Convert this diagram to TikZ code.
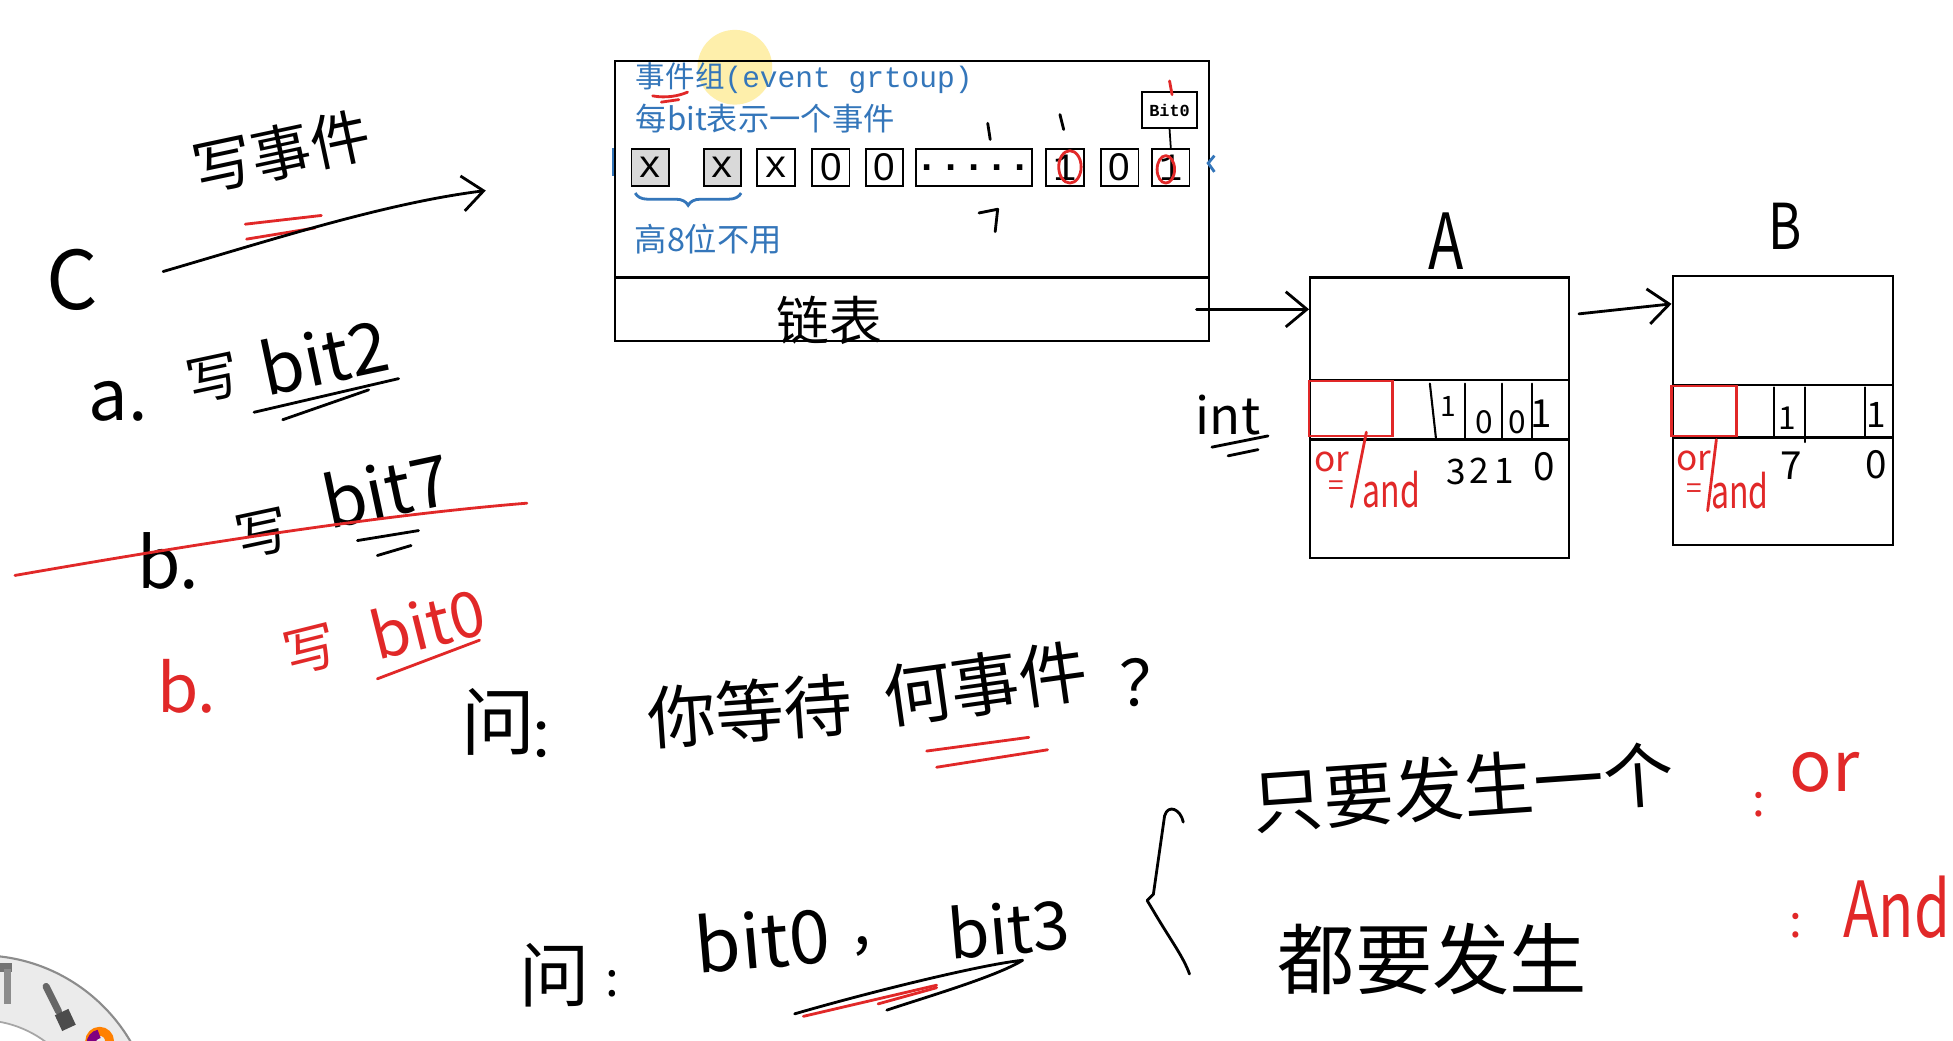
\documentclass[tikz,border=0pt]{standalone}
\usepackage{fontspec}
\setmainfont{Noto Sans CJK SC}
\newfontfamily\monof{Liberation Mono}
\newfontfamily\sansf{Liberation Sans}
\usetikzlibrary{arrows.meta,decorations.pathreplacing}
\newlength\pu
\setlength\pu{0.012455cm}
\newcommand\fsz[1]{\fontsize{#1}{#1}\selectfont}
\definecolor{tblue}{RGB}{52,118,186}
\definecolor{pred}{RGB}{225,40,40}
\begin{document}
\begin{tikzpicture}[x=\pu, y=-\pu,
  rbox/.style 2 args={draw, line width=0.6pt, inner sep=0pt, minimum width=#1\pu, minimum height=#2\pu, anchor=north west},
  cell/.style={draw, line width=0.5pt, inner sep=0pt, minimum width=30\pu, minimum height=30\pu, font=\monof\fsz{11}},
  zcell/.style={cell, font=\sansf\fsz{11}},
  graycell/.style={cell, fill=black!15},
  btxt/.style={inner sep=0pt, text=tblue, anchor=west},
  hw/.style={inner sep=0pt},
  hwr/.style={inner sep=0pt, text=pred},
  pen/.style={line width=0.8pt, line cap=round, line join=round},
  rpen/.style={line width=0.8pt, line cap=round, line join=round, draw=pred},
  harr/.style={pen, -{Straight Barb[length=6pt, width=10pt]}}
]
\useasboundingbox (0,0) rectangle (1568,835);
\clip (0,0) rectangle (1568,835);
\fill[white] (0,0) rectangle (1568,835);

% cursor highlight
\fill[yellow!70!orange!40, opacity=0.8] (590,54) circle (30);

% event group box
\node[rbox={477}{174}] (eg) at (493,48) {};
\node[rbox={477}{51}] (list) at (493,222) {};
\node[hw, font=\fsz{15}] (listlbl) at (666,257) {链表};

\node[btxt, font=\fsz{8.4}] (title) at (510,63) {事件组\monof(event grtoup)};
\node[btxt, font=\fsz{8.9}] (line2) at (510,95) {每bit表示一个事件};
\node[btxt, font=\fsz{9.2}] (high) at (509,192) {高8位不用};

% cells
\node[graycell] (c1) at (522,134.5) {x};
\node[graycell] (c2) at (580,134.5) {x};
\node[cell] (c3) at (623,134.5) {x};
\node[zcell] (c4) at (667,134.5) {0};
\node[zcell] (c5) at (710,134.5) {0};
\node[cell, minimum width=86\pu, font=\monof\bfseries\fsz{11}] (c6) at (782,134.5) {.....};
\node[cell] (c7) at (855,134.5) {1};
\node[zcell] (c8) at (899,134.5) {0};
\node[cell] (c9) at (940,134.5) {1};
\node[draw, line width=0.5pt, inner sep=0pt, minimum width=44\pu, minimum height=29\pu, font=\monof\bfseries\fsz{4.8}] (bit0) at (939,88.5) {Bit0};
\draw[line width=0.5pt] (bit0.south) -- (c9.north);

% brace
\draw[tblue, line width=0.8pt, decorate, decoration={brace, mirror, amplitude=3.5pt}] (510,155) -- (595,155);

% small blue marks
\draw[tblue, line width=0.7pt] (492,119) -- (492,141);
\draw[tblue, line width=0.8pt] (975,125) -- (970,131) -- (975,138);

% pen marks on top box
\draw[rpen] (524,77) .. controls (535,79) and (545,77) .. (552,74);
\draw[rpen] (531,82) -- (545,80);
\draw[rpen] (939,65) -- (941,76);
\draw[rpen] (859,134) ellipse (9 and 13);
\draw[rpen] (936,136) ellipse (7 and 11);
\draw[pen] (793,99) -- (795,112);
\draw[pen] (851,92) -- (854,104);
\draw[pen] (786,171) -- (801,168) -- (799,186);

% A and B boxes
\node[rbox={208}{225}] (A) at (1051,222) {};
\node[rbox={177}{216}] (B) at (1342,221) {};
\node[hw, font=\fsz{22}] (Albl) at (1161,194) {\scalebox{0.75}[1]{A}};
\node[hw, font=\fsz{18}] (Blbl) at (1433,182) {\scalebox{0.8}[1]{B}};

\draw[harr] ([xshift=-11\pu]list.east) -- (list.east -| A.west);
\draw[harr] ([shift={(7,30)}]A.north east) -- ([shift={(0,23)}]B.north west);

% A band
\draw[line width=0.6pt] (1051,305) -- (1259,305);
\draw[line width=0.9pt] (1051,353) -- (1259,353);
\draw[pred, line width=0.7pt] (1051,306) rectangle (1118,350);
\draw[pen, line width=0.6pt] (1148,308) -- (1153,353);
\draw[pen, line width=0.6pt] (1176,308) -- (1176,353);
\draw[pen, line width=0.6pt] (1206,308) -- (1206,353);
\draw[pen, line width=0.6pt] (1230,308) -- (1230,353);
\node[hw, font=\fsz{8}] (a3) at (1163,326) {1};
\node[hw, font=\fsz{9}] (a2) at (1192,339) {0};
\node[hw, font=\fsz{9}] (a1) at (1218,339) {0};
\node[hw, font=\fsz{11}] (a0) at (1237,332) {1};
\node[hw, font=\fsz{10}] (l3) at (1169,379) {3};
\node[hw, font=\fsz{10}] (l2) at (1188,378) {2};
\node[hw, font=\fsz{10}] (l1) at (1208,378) {1};
\node[hw, font=\fsz{11}] (l0) at (1240,375) {0};
\node[hwr, font=\fsz{10}] (aor) at (1069,371) {or};
\node[hwr, font=\fsz{8}] (aeq) at (1073,392) {=};
\draw[rpen] (1097,347) -- (1085,407);
\node[hwr, font=\fsz{13}] (aand) at (1117,393) {\scalebox{0.7}[1]{and}};
\node[hw, font=\fsz{14.5}] (intl) at (986,333) {int};
\draw[pen] (973,359) -- (1018,350);
\draw[pen] (986,366) -- (1010,361);

% B band
\draw[line width=0.6pt] (1342,309) -- (1519,309);
\draw[line width=0.9pt] (1342,351) -- (1519,351);
\draw[pred, line width=0.7pt] (1342,310) rectangle (1394,350);
\draw[pen, line width=0.6pt] (1424,311) -- (1424,351);
\draw[pen, line width=0.6pt] (1449,311) -- (1449,355);
\draw[pen, line width=0.6pt] (1497,311) -- (1497,351);
\node[hw, font=\fsz{9}] (b1) at (1435,336) {1};
\node[hw, font=\fsz{10}] (b0) at (1506,333) {1};
\node[hw, font=\fsz{11}] (b7) at (1438,374) {7};
\node[hw, font=\fsz{11}] (bz) at (1506,373) {0};
\node[hwr, font=\fsz{10}] (bor) at (1360,370) {or};
\node[hwr, font=\fsz{8}] (beq) at (1360,394) {=};
\draw[rpen] (1378,353) -- (1371,410);
\node[hwr, font=\fsz{13}] (band) at (1397,394) {\scalebox{0.7}[1]{and}};

% left column
\node[hw, font=\fsz{17}, rotate=12] (wev) at (226,122) {写事件};
\draw[rpen] (197,180) -- (258,173);
\draw[rpen] (198,192) -- (253,183);
\node[hw, font=\fsz{23}] (clang) at (58,225) {C};
\draw[harr] (131,218) .. controls (220,192) and (310,163) .. (390,153);

\node[hw, font=\fsz{20}] (aa) at (95,322) {a.};
\node[hw, font=\fsz{15}, rotate=12] (aw) at (171,304) {写};
\node[hw, font=\fsz{20}, rotate=12] (ab) at (260,286) {bit2};
\draw[pen] (204,331) -- (320,304);
\draw[pen] (227,337) -- (296,313);

\node[hw, font=\fsz{20}] (bb) at (135,450) {b.};
\node[hw, font=\fsz{15}, rotate=12] (bw) at (211,428) {写};
\node[hw, font=\fsz{20}, rotate=12] (bbit) at (310,393) {bit7};
\draw[pen] (287,434) -- (336,426);
\draw[pen] (303,446) -- (330,438);
\draw[rpen] (12,462) .. controls (150,438) and (300,414) .. (423,404);

\node[hwr, font=\fsz{19}] (rb) at (150,551) {b.};
\node[hwr, font=\fsz{15}, rotate=14] (rw) at (249,522) {写};
\node[hwr, font=\fsz{18}, rotate=14] (rbit) at (343,500) {bit0};
\draw[rpen] (303,545) -- (385,514);

% question 1
\node[hw, font=\fsz{21}] (q1) at (400,580) {问};
\node[hw, font=\fsz{16}] (q1c) at (446,594) {：};
\node[hw, font=\fsz{19.5}, rotate=4] (q1a) at (602,571) {你等待};
\node[hw, font=\fsz{19.5}, rotate=8] (q1b) at (791,549) {何事件};
\node[hw, font=\fsz{18}] (q1q) at (924,548) {？};
\draw[rpen] (744,603) -- (826,592);
\draw[rpen] (752,616) -- (841,602);

% question 2
\node[hw, font=\fsz{20}] (q2) at (445,783) {问};
\node[hw, font=\fsz{14}] (q2c) at (492,790) {:};
\node[hw, font=\fsz{21}, rotate=5] (q2a) at (612,754) {bit0};
\node[hw, font=\fsz{18}] (q2k) at (692,760) {,};
\node[hw, font=\fsz{19}, rotate=5] (q2b) at (810,745) {bit3};
\draw[pen] (638,814) .. controls (700,796) and (790,774) .. (821,771) .. controls (800,784) and (745,800) .. (712,811);
\draw[rpen] (645,816) -- (752,791);
\draw[rpen] (705,806) -- (752,793);

% brace
\draw[pen] (950,660) .. controls (948,650) and (938,645) .. (935,655) -- (926,718) -- (921,723) -- (927,733) .. controls (940,755) and (950,768) .. (955,782);

\node[hw, font=\fsz{20}, rotate=4] (r1) at (1175,632) {只要发生一个};
\node[hwr, font=\fsz{13}] (r1c) at (1412,646) {:};
\node[hwr, font=\fsz{20}] (r1o) at (1465,620) {or};
\node[hw, font=\fsz{22}] (r2) at (1150,770) {都要发生};
\node[hwr, font=\fsz{13}] (r2c) at (1442,743) {:};
\node[hwr, font=\fsz{22}] (r2a) at (1523,728) {\scalebox{0.75}[1]{And}};

% tool ring (bottom left)
\fill[black!8, even odd rule] (-16,907) circle (140) (-16,907) circle (88);
\draw[black!45, line width=0.6pt] (-16,907) circle (140);
\draw[black!35, line width=0.5pt] (-16,907) circle (88);
\fill[black!55] (0,773) rectangle (10,780);
\fill[black!45] (3,778) rectangle (9,806);
\draw[black!60, line width=2pt, line cap=round] (37,792) -- (47,812);
\fill[black!70, rotate around={25:(52,818)}] (46,812) rectangle (58,826);
\draw[line width=2.5pt, orange] (80,836) circle (8);
\draw[line width=2.5pt, violet] (73,838) arc (180:260:8);
\end{tikzpicture}
\end{document}
